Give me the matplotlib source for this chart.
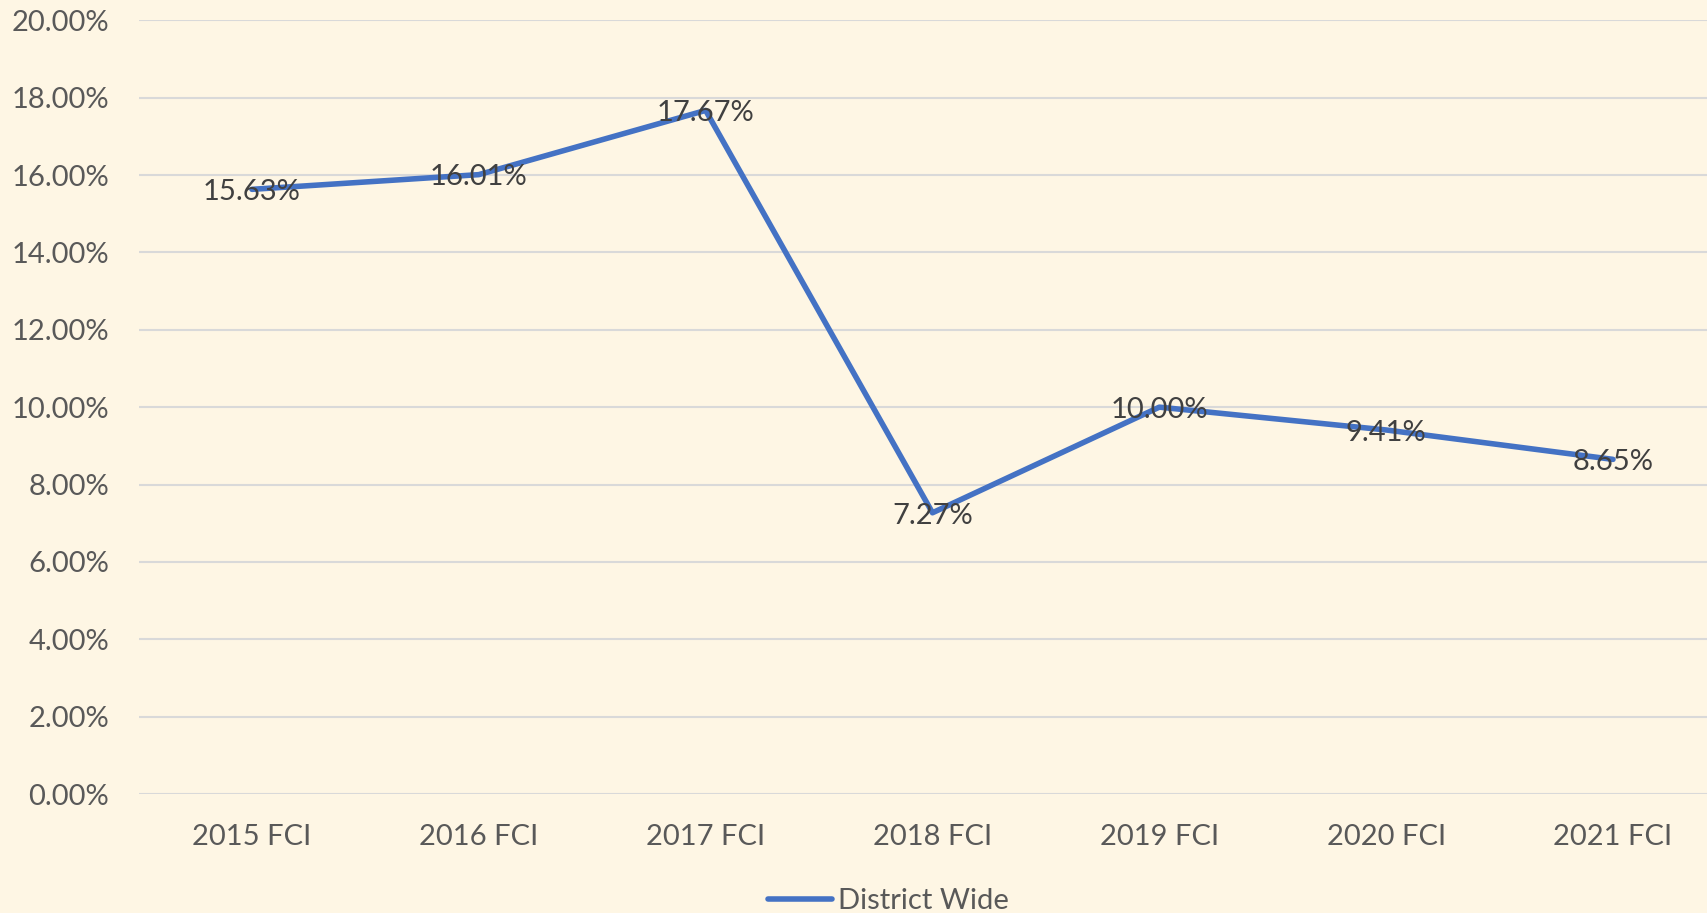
import matplotlib.pyplot as plt
from matplotlib.ticker import FuncFormatter

# dados do grafico
anos = ['2015 FCI', '2016 FCI', '2017 FCI', '2018 FCI', '2019 FCI', '2020 FCI', '2021 FCI']
district_wide = [15.63, 16.01, 17.67, 7.27, 10.00, 9.41, 8.65]
yticks = [0, 2, 4, 6, 8, 10, 12, 14, 16, 18, 20]

fundo = '#FEF6E4'
cinza = '#595959'
azul = '#4472C4'

plt.rcParams['font.family'] = ['Lato', 'DejaVu Sans']

fig = plt.figure(figsize=(17.08, 9.13), dpi=100, facecolor=fundo)
ax = fig.add_axes([0.0811, 0.1303, 0.9297, 0.8475])
ax.set_facecolor(fundo)

x = list(range(len(anos)))
ax.plot(x, district_wide, color=azul, linewidth=4.0, solid_capstyle='round',
        solid_joinstyle='round', label='District Wide', zorder=3)

for i in range(len(x)):
    ax.annotate('%.2f%%' % district_wide[i], (x[i], district_wide[i]), xytext=(0, -2),
                textcoords='offset points', ha='center', va='center',
                fontsize=21, color='#404040', zorder=4)

ax.set_xlim(-0.5, len(anos) - 0.5)
ax.set_ylim(0, 20)
ax.set_yticks(yticks)
ax.yaxis.set_major_formatter(FuncFormatter(lambda v, p: '%.2f%%' % v))
ax.set_xticks(x)
ax.set_xticklabels(anos)
ax.grid(axis='y', color='#D9D9D9', linewidth=1.5, zorder=0)
ax.set_axisbelow(True)
for s in ax.spines.values():
    s.set_visible(False)
ax.tick_params(axis='both', length=0, labelsize=21, labelcolor=cinza)
ax.tick_params(axis='y', pad=21)
ax.tick_params(axis='x', pad=21.5)

fig.legend(loc='lower center', bbox_to_anchor=(0.52, -0.03), frameon=False,
           fontsize=21, labelcolor=cinza, handlelength=2.2, handletextpad=0.2)

fig.savefig('out.png', dpi=100, facecolor=fundo)
